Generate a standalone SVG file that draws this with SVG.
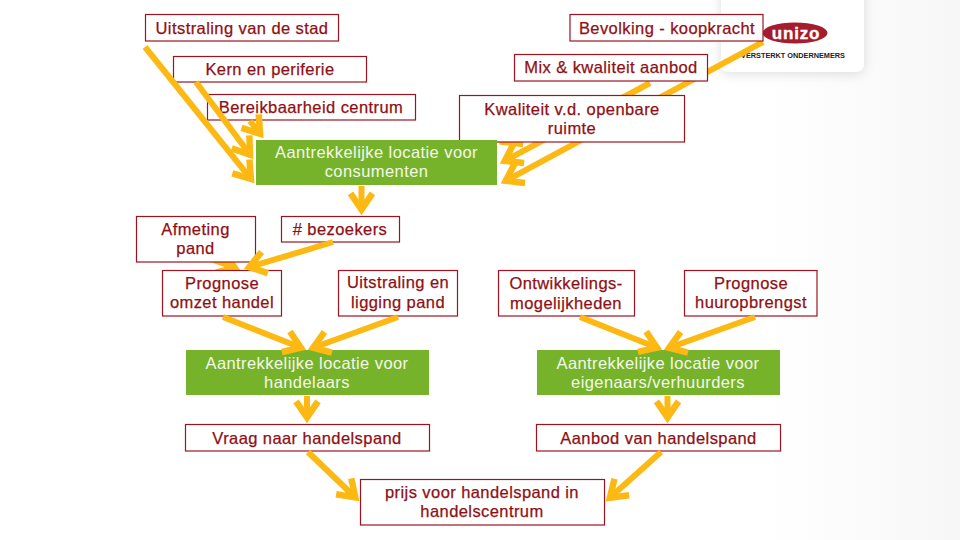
<svg xmlns="http://www.w3.org/2000/svg" width="960" height="540" viewBox="0 0 960 540">
<style>
.b{fill:#fff;stroke:#9c1420;stroke-width:1.2}
.g{fill:#76b32a}
text{font-family:"Liberation Sans",Arial,sans-serif;font-size:16.5px;text-anchor:middle;letter-spacing:.42px}
.t{fill:#8f0f14;stroke:#8f0f14;stroke-width:.25}
.w{fill:#f4f8ec}
.a{fill:none;stroke:#fdb913;stroke-width:6;marker-end:url(#h)}
</style>
<defs>
<marker id="h" markerUnits="userSpaceOnUse" markerWidth="50" markerHeight="40" refX="37.600" refY="20" orient="auto" overflow="visible">
<path d="M20,9 L36,20 L20,31" fill="none" stroke="#fdb913" stroke-width="6.500" stroke-miterlimit="6"/>
</marker>
<linearGradient id="bg" x1="0" x2="1" y1="0" y2="0"><stop offset="0" stop-color="#fff"/><stop offset=".8" stop-color="#fff"/><stop offset="1" stop-color="#f7f7f7"/></linearGradient>
<filter id="s" x="-20%" y="-30%" width="140%" height="170%"><feDropShadow dx="0" dy="2" stdDeviation="6" flood-color="#000" flood-opacity=".13"/></filter>
</defs>
<rect width="960" height="540" fill="url(#bg)"/>
<g id="logo">
<rect x="721" y="-20" width="143" height="92" rx="8" fill="#fff" filter="url(#s)"/>
<ellipse cx="795" cy="33" rx="32.500" ry="10.500" fill="#a51c2c"/>
<text x="796" y="39" style="font-size:17px;font-weight:700;fill:#fff;letter-spacing:.8px;stroke:#fff;stroke-width:.4">unizo</text>
<text x="793" y="58" style="font-size:8px;font-weight:700;fill:#222;letter-spacing:0" textLength="104" lengthAdjust="spacingAndGlyphs">VERSTERKT ONDERNEMERS</text>
</g>
<g id="connectors-back">
<path class="a" d="M763,42 L504.400,181.600"/>
<path class="a" d="M650,83 L503.400,161.600"/>
<path class="a" d="M560,112 L502.400,142.600"/>
<path class="a" d="M200,255 L236.300,268.300"/>
</g>
<g id="n-bevolking"><rect class="b" x="570" y="14.500" width="193" height="26.500"/><text class="t" x="667" y="33.500">Bevolking - koopkracht</text></g>
<g id="n-mix"><rect class="b" x="514.500" y="54.500" width="193" height="26.500"/><text class="t" x="611" y="73">Mix &amp; kwaliteit aanbod</text></g>
<g id="n-kwaliteit"><rect class="b" x="459.500" y="95.500" width="225" height="46.500"/><text class="t" x="572" y="115">Kwaliteit v.d. openbare</text><text class="t" x="572" y="134">ruimte</text></g>
<g id="n-uitstraling"><rect class="b" x="145.500" y="14.500" width="193" height="26.500"/><text class="t" x="242" y="33.500">Uitstraling van de stad</text></g>
<g id="n-kern"><rect class="b" x="173.500" y="56.500" width="193" height="25.500"/><text class="t" x="270" y="74.500">Kern en periferie</text></g>
<g id="n-bereik"><rect class="b" x="207.500" y="94.500" width="208" height="25.500"/><text class="t" x="311" y="113">Bereikbaarheid centrum</text></g>
<g id="n-green1"><rect class="g" x="256" y="140" width="241" height="45"/><text class="w" x="376.500" y="158">Aantrekkelijke locatie voor</text><text class="w" x="376.500" y="177">consumenten</text></g>
<g id="n-afmeting"><rect class="b" x="136.500" y="216.500" width="119" height="45.500"/><text class="t" x="195.500" y="235">Afmeting</text><text class="t" x="195.500" y="254">pand</text></g>
<g id="n-bezoekers"><rect class="b" x="281.500" y="216.500" width="118" height="25.500"/><text class="t" x="340" y="234.500"># bezoekers</text></g>
<g id="n-prognose"><rect class="b" x="162.500" y="270.500" width="119" height="45.500"/><text class="t" x="222" y="289">Prognose</text><text class="t" x="222" y="308">omzet handel</text></g>
<g id="n-ligging"><rect class="b" x="338.500" y="270.500" width="119" height="45.500"/><text class="t" x="398" y="288">Uitstraling en</text><text class="t" x="398" y="307.500">ligging pand</text></g>
<g id="n-ontw"><rect class="b" x="498.500" y="270.500" width="136" height="45.500"/><text class="t" x="566" y="289">Ontwikkelings-</text><text class="t" x="566" y="308.500">mogelijkheden</text></g>
<g id="n-huur"><rect class="b" x="684.500" y="270.500" width="132.500" height="45.500"/><text class="t" x="751" y="288.500">Prognose</text><text class="t" x="751" y="308">huuropbrengst</text></g>
<g id="n-green2"><rect class="g" x="186" y="350" width="243" height="45"/><text class="w" x="307" y="369">Aantrekkelijke locatie voor</text><text class="w" x="307" y="387.500">handelaars</text></g>
<g id="n-green3"><rect class="g" x="537" y="350" width="243" height="45"/><text class="w" x="658" y="369">Aantrekkelijke locatie voor</text><text class="w" x="658" y="387.500">eigenaars/verhuurders</text></g>
<g id="n-vraag"><rect class="b" x="185.500" y="424.500" width="244" height="26.500"/><text class="t" x="307" y="443.500">Vraag naar handelspand</text></g>
<g id="n-aanbod"><rect class="b" x="536.500" y="424.500" width="244" height="26.500"/><text class="t" x="658.500" y="443.500">Aanbod van handelspand</text></g>
<g id="n-prijs"><rect class="b" x="360.500" y="479.500" width="244" height="45.500"/><text class="t" x="482" y="498">prijs voor handelspand in</text><text class="t" x="482" y="517">handelscentrum</text></g>
<g id="connectors">
<path class="a" d="M145,47 L251.900,180.100"/>
<path class="a" d="M196,82 L251,156"/>
<path class="a" d="M250,121 L261,135"/>
<path class="a" d="M361.500,186 L361.500,211"/>
<path class="a" d="M333,242 L247.800,267.600"/>
<path class="a" d="M223,317 L302.300,348.200"/>
<path class="a" d="M398,317 L311.700,348.300"/>
<path class="a" d="M580,317 L658.400,348.200"/>
<path class="a" d="M755,317 L667.700,348.300"/>
<path class="a" d="M307,396 L307,419"/>
<path class="a" d="M667.500,396 L667.500,419"/>
<path class="a" d="M308,452 L356.400,498.500"/>
<path class="a" d="M661,452 L608.700,498.700"/>
</g>
</svg>
